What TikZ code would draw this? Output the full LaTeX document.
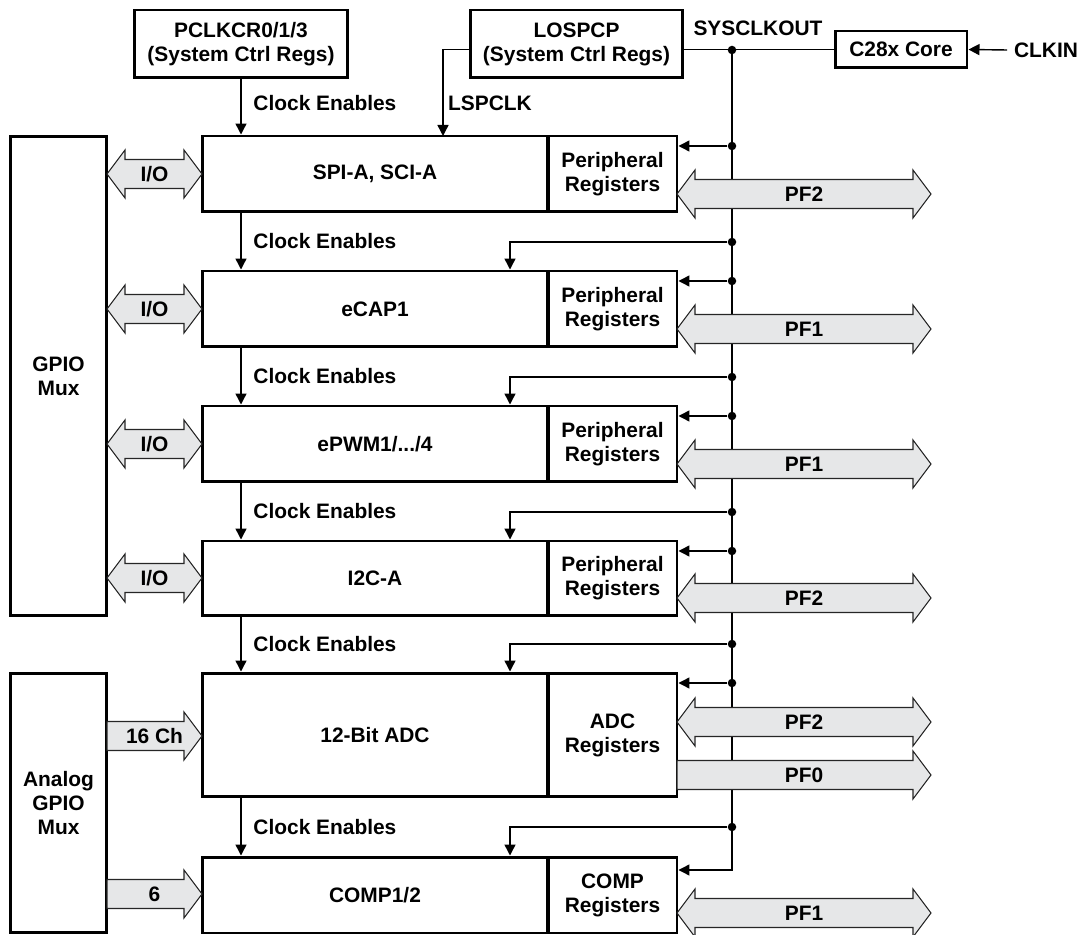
\documentclass[tikz,border=0pt]{standalone}
\usepackage{fontspec}
\setmainfont{Liberation Sans}
\usetikzlibrary{arrows.meta}
\definecolor{busgray}{HTML}{E6E7E8}
\tikzset{
  box/.style={draw, line width=1.7pt, inner sep=0pt, align=center},
  blk/.style={box, minimum width=6.92cm},
  regs/.style={box, minimum width=2.58cm},
  wire/.style={line width=0.8pt},
  clk/.style={wire, -{Triangle[length=0.22cm,width=0.22cm]}},
  dot/.style={circle, fill, inner sep=0pt, minimum size=0.17cm},
  bus/.style={fill=busgray, draw=black!85, line width=0.6pt},
  lbl/.style={inner sep=1pt},
}
% fat double arrow: x1, x2, y, name, text
\newcommand{\dblbus}[5]{%
  \filldraw[bus] (#1,#3) -- (#1+18,#3-24) -- (#1+18,#3-14.5) -- (#2-18,#3-14.5)
    -- (#2-18,#3-24) -- (#2,#3) -- (#2-18,#3+24) -- (#2-18,#3+14.5)
    -- (#1+18,#3+14.5) -- (#1+18,#3+24) -- cycle;
  \node[lbl] (#4) at ({(#1+#2)/2},#3) {#5};}
% fat arrow to the right: x1, x2, y, name, text
\newcommand{\onebus}[5]{%
  \filldraw[bus] (#1,#3-14.5) -- (#2-18,#3-14.5) -- (#2-18,#3-24) -- (#2,#3)
    -- (#2-18,#3+24) -- (#2-18,#3+14.5) -- (#1,#3+14.5) -- cycle;
  \node[lbl] (#4) at ({(#1+#2)/2},#3) {#5};}
\begin{document}
\begin{tikzpicture}[x=0.02cm, y=-0.02cm,
    every node/.style={font=\fontsize{11.9}{13.6}\selectfont\bfseries}]
  \useasboundingbox (0,0) rectangle (1079,935);
  % clock sources
  \node[box, minimum width=4.28cm, minimum height=1.36cm] (pclkcr) at (241,44) {PCLKCR0/1/3\\(System Ctrl Regs)};
  \node[box, minimum width=4.26cm, minimum height=1.36cm] (lospcp) at (576.5,44) {LOSPCP\\(System Ctrl Regs)};
  \node[box, minimum width=2.64cm, minimum height=0.74cm] (core) at (901,49.5) {C28x Core};
  \node[lbl, anchor=west] (clkin) at (1012,50) {CLKIN};
  \node[lbl] (sysclk) at (758,28) {SYSCLKOUT};
  \node[lbl, anchor=west] (lspclk) at (446,103) {LSPCLK};
  % muxes
  \node[box, minimum width=1.94cm, minimum height=9.6cm] (gpio) at (58.5,376) {GPIO\\Mux};
  \node[box, minimum width=1.94cm, minimum height=5.2cm] (agpio) at (58.5,803) {Analog\\GPIO\\Mux};
  % peripherals
  \node[blk, minimum height=1.52cm] (spi) at (375,174) {SPI-A, SCI-A};
  \node[regs, minimum height=1.52cm] (spiregs) at (612.5,174) {Peripheral\\Registers};
  \node[blk, minimum height=1.52cm] (ecap) at (375,309) {eCAP1};
  \node[regs, minimum height=1.52cm] (ecapregs) at (612.5,309) {Peripheral\\Registers};
  \node[blk, minimum height=1.52cm] (epwm) at (375,444) {ePWM1/.../4};
  \node[regs, minimum height=1.52cm] (epwmregs) at (612.5,444) {Peripheral\\Registers};
  \node[blk, minimum height=1.5cm] (i2c) at (375,578.5) {I2C-A};
  \node[regs, minimum height=1.5cm] (i2cregs) at (612.5,578.5) {Peripheral\\Registers};
  \node[blk, minimum height=2.48cm] (adc) at (375,735) {12-Bit ADC};
  \node[regs, minimum height=2.48cm] (adcregs) at (612.5,735) {ADC\\Registers};
  \node[blk, minimum height=1.52cm] (comp) at (375,895) {COMP1/2};
  \node[regs, minimum height=1.52cm] (compregs) at (612.5,895) {COMP\\Registers};
  % SYSCLKOUT bus
  \coordinate (bend) at (732,870);
  \coordinate (fx) at (510,0);
  \coordinate (lspin) at (443,136);
  \draw[clk] (732,50) -- (bend) -- (compregs.east |- bend);
  \node[dot] (t0) at (732,50) {};
  \node[dot] (r1) at (732,146) {};
  \node[dot] (r2) at (732,281) {};
  \node[dot] (r3) at (732,416) {};
  \node[dot] (r4) at (732,551) {};
  \node[dot] (r5) at (732,683) {};
  \node[dot] (f2) at (732,242) {};
  \node[dot] (f3) at (732,377) {};
  \node[dot] (f4) at (732,512) {};
  \node[dot] (f5) at (732,644) {};
  \node[dot] (f6) at (732,827) {};
  \draw[wire] (lospcp.east |- core.west) -- (core.west);
  \draw[clk] ([xshift=-0.1cm]clkin.west) -- (core.east);
  \draw[clk] (lospcp.west |- core.west) -| (lspin);
  \draw[clk] (r1) -- (r1 -| spiregs.east);
  \draw[clk] (r2) -- (r2 -| ecapregs.east);
  \draw[clk] (r3) -- (r3 -| epwmregs.east);
  \draw[clk] (r4) -- (r4 -| i2cregs.east);
  \draw[clk] (r5) -- (r5 -| adcregs.east);
  \draw[clk] (f2) -| (fx |- ecap.north);
  \draw[clk] (f3) -| (fx |- epwm.north);
  \draw[clk] (f4) -| (fx |- i2c.north);
  \draw[clk] (f5) -| (fx |- adc.north);
  \draw[clk] (f6) -| (fx |- comp.north);
  % clock enables
  \draw[clk] (pclkcr.south) -- (pclkcr.south |- spi.north)
    node[lbl, anchor=west, xshift=0.2cm, pos=0.43] {Clock Enables};
  \draw[clk] (pclkcr.south |- spi.south) -- (pclkcr.south |- ecap.north)
    node[lbl, anchor=west, xshift=0.2cm, midway] {Clock Enables};
  \draw[clk] (pclkcr.south |- ecap.south) -- (pclkcr.south |- epwm.north)
    node[lbl, anchor=west, xshift=0.2cm, midway] {Clock Enables};
  \draw[clk] (pclkcr.south |- epwm.south) -- (pclkcr.south |- i2c.north)
    node[lbl, anchor=west, xshift=0.2cm, midway] {Clock Enables};
  \draw[clk] (pclkcr.south |- i2c.south) -- (pclkcr.south |- adc.north)
    node[lbl, anchor=west, xshift=0.2cm, midway] {Clock Enables};
  \draw[clk] (pclkcr.south |- adc.south) -- (pclkcr.south |- comp.north)
    node[lbl, anchor=west, xshift=0.2cm, midway] {Clock Enables};
  % data paths
  \dblbus{107}{202}{174}{io1}{I/O}
  \dblbus{107}{202}{309}{io2}{I/O}
  \dblbus{107}{202}{444}{io3}{I/O}
  \dblbus{107}{202}{578}{io4}{I/O}
  \onebus{107}{202}{736}{ch}{16 Ch}
  \onebus{107}{202}{894}{cmp}{6}
  \dblbus{677}{931}{194}{pfa}{PF2}
  \dblbus{677}{931}{329}{pfb}{PF1}
  \dblbus{677}{931}{464}{pfc}{PF1}
  \dblbus{677}{931}{598}{pfd}{PF2}
  \dblbus{677}{931}{722}{pfe}{PF2}
  \onebus{677}{931}{775}{pf0}{PF0}
  \dblbus{677}{931}{913}{pff}{PF1}
\end{tikzpicture}
\end{document}
